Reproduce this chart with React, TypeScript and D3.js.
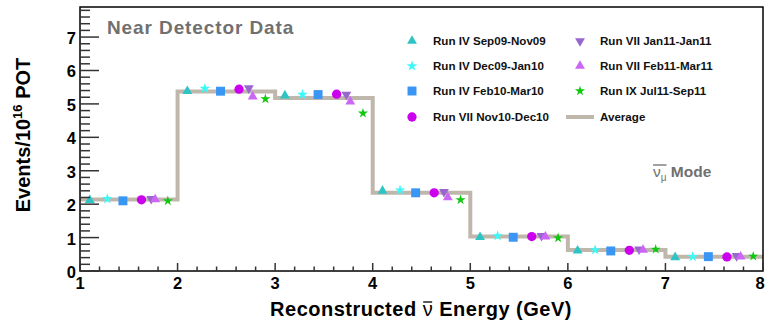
import React, { useEffect, useRef } from "react";
import * as d3 from "d3";

const binStarts = [1, 2, 3, 4, 5, 6, 7];
const average = [2.14, 5.37, 5.18, 2.34, 1.03, 0.63, 0.43];
const runIVSep = [2.12, 5.38, 5.25, 2.40, 1.01, 0.61, 0.41];
const runIVDec = [2.16, 5.46, 5.28, 2.42, 1.05, 0.63, 0.43];
const runIVFeb = [2.10, 5.38, 5.28, 2.34, 1.01, 0.60, 0.43];
const runVIINov = [2.13, 5.44, 5.29, 2.34, 1.03, 0.62, 0.42];
const runVIIJan = [2.16, 5.47, 5.28, 2.37, 1.05, 0.65, 0.45];
const runVIIFeb = [2.14, 5.22, 5.07, 2.20, 1.03, 0.63, 0.43];
const runIXJul = [2.10, 5.15, 4.72, 2.13, 0.99, 0.65, 0.44];
const seriesNames = [
  "Run IV Sep09-Nov09",
  "Run IV Dec09-Jan10",
  "Run IV Feb10-Mar10",
  "Run VII Nov10-Dec10",
  "Run VII Jan11-Jan11",
  "Run VII Feb11-Mar11",
  "Run IX Jul11-Sep11",
];
const offsets = [0.1, 0.28, 0.44, 0.63, 0.73, 0.77, 0.9];
const yTicks = [0, 1, 2, 3, 4, 5, 6, 7];
const xTicks = [1, 2, 3, 4, 5, 6, 7, 8];

const FONT = "'Liberation Sans', Arial, Helvetica, sans-serif";

export default function App() {
  const ref = useRef<SVGSVGElement>(null);
  useEffect(() => {
    const svg = d3.select(ref.current);
    svg.selectAll("*").remove();
    const x = d3.scaleLinear().domain([1, 8]).range([80, 763]);
    const y = d3.scaleLinear().domain([0, 7.9]).range([271, 7]);

    const series = [runIVSep, runIVDec, runIVFeb, runVIINov, runVIIJan, runVIIFeb, runIXJul];
    const styles = [
      { type: d3.symbolTriangle, size: 42, color: "#2ec4c4", rot: 0 },
      { type: d3.symbolStar, size: 36, color: "#3cf8f8", rot: 0 },
      { type: d3.symbolSquare, size: 80, color: "#3a96f5", rot: 0 },
      { type: d3.symbolCircle, size: 68, color: "#cc00ee", rot: 0 },
      { type: d3.symbolTriangle, size: 42, color: "#9966d0", rot: 180 },
      { type: d3.symbolTriangle, size: 42, color: "#cc66f5", rot: 0 },
      { type: d3.symbolStar, size: 32, color: "#11c811", rot: 0 },
    ];

    // step line (average)
    const stepData = binStarts.map((b, i) => [b, average[i]] as [number, number]);
    stepData.push([8, average[average.length - 1]]);
    const line = d3
      .line<[number, number]>()
      .x((d) => x(d[0]))
      .y((d) => y(d[1]))
      .curve(d3.curveStepAfter);
    svg
      .append("path")
      .attr("d", line(stepData))
      .attr("fill", "none")
      .attr("stroke", "#c0b7ac")
      .attr("stroke-width", 4);

    // markers
    series.forEach((vals, si) => {
      const st = styles[si];
      const sym = d3.symbol().type(st.type).size(st.size);
      svg
        .append("g")
        .selectAll("path")
        .data(vals)
        .join("path")
        .attr("d", sym() as string)
        .attr(
          "transform",
          (d, i) => `translate(${x(binStarts[i] + offsets[si])},${y(d)}) rotate(${st.rot})`
        )
        .attr("fill", st.color);
    });

    // frame
    svg
      .append("rect")
      .attr("x", 80)
      .attr("y", 7)
      .attr("width", 683)
      .attr("height", 264)
      .attr("fill", "none")
      .attr("stroke", "#000")
      .attr("stroke-width", 1.5);

    // y ticks
    const yMinor = d3.range(0, 7.81, 0.2);
    svg
      .append("g")
      .selectAll("line")
      .data(yMinor)
      .join("line")
      .attr("x1", 80)
      .attr("x2", (d) => (Math.abs(d - Math.round(d)) < 1e-6 ? 99 : 90))
      .attr("y1", (d) => y(d))
      .attr("y2", (d) => y(d))
      .attr("stroke", "#333")
      .attr("stroke-width", 1.5);
    svg
      .append("g")
      .selectAll("text")
      .data(yTicks)
      .join("text")
      .attr("x", 76)
      .attr("y", (d) => y(d) + 7)
      .attr("text-anchor", "end")
      .attr("font-family", FONT)
      .attr("font-weight", "bold")
      .attr("font-size", 16.5)
      .text((d) => String(d));

    // x ticks
    const xMinor = d3.range(1, 8.01, 0.2);
    svg
      .append("g")
      .selectAll("line")
      .data(xMinor)
      .join("line")
      .attr("x1", (d) => x(d))
      .attr("x2", (d) => x(d))
      .attr("y1", 271)
      .attr("y2", (d) => (Math.abs(d - Math.round(d)) < 1e-6 ? 263 : 266.5))
      .attr("stroke", "#333")
      .attr("stroke-width", 1.5);
    svg
      .append("g")
      .selectAll("text")
      .data(xTicks)
      .join("text")
      .attr("x", (d) => Math.min(x(d), 760))
      .attr("y", 289)
      .attr("text-anchor", "middle")
      .attr("font-family", FONT)
      .attr("font-weight", "bold")
      .attr("font-size", 16.5)
      .text((d) => String(d));

    // axis titles
    const yl = svg
      .append("text")
      .attr("transform", "translate(30,135) rotate(-90)")
      .attr("text-anchor", "middle")
      .attr("font-family", FONT)
      .attr("font-weight", "bold")
      .attr("font-size", 20);
    yl.append("tspan").text("Events/10");
    yl.append("tspan").attr("font-size", 13).attr("dy", -8).text("16");
    yl.append("tspan").attr("dy", 8).text(" POT");

    const xl = svg
      .append("text")
      .attr("x", 421)
      .attr("y", 316)
      .attr("text-anchor", "middle")
      .attr("font-family", FONT)
      .attr("font-weight", "bold")
      .attr("font-size", 20)
      .attr("letter-spacing", 0.5);
    xl.append("tspan").text("Reconstructed ");
    xl.append("tspan").attr("font-weight", "normal").text("ν");
    xl.append("tspan").text(" Energy (GeV)");
    try {
      const node = xl.node() as SVGTextElement;
      const s = node.getStartPositionOfChar(14);
      const e = node.getEndPositionOfChar(14);
      svg
        .append("line")
        .attr("x1", s.x + 0.5)
        .attr("x2", e.x - 1)
        .attr("y1", 302)
        .attr("y2", 302)
        .attr("stroke", "#000")
        .attr("stroke-width", 1.3);
    } catch (err) {}

    // title
    svg
      .append("text")
      .attr("x", 107)
      .attr("y", 34)
      .attr("font-family", FONT)
      .attr("font-weight", "bold")
      .attr("font-size", 19)
      .attr("letter-spacing", 0.9)
      .attr("fill", "#707070")
      .text("Near Detector Data");

    // mode label
    const ml = svg
      .append("text")
      .attr("x", 653)
      .attr("y", 177)
      .attr("font-family", FONT)
      .attr("font-weight", "bold")
      .attr("font-size", 15.5)
      .attr("fill", "#707070");
    ml.append("tspan").attr("font-weight", "normal").text("ν");
    ml.append("tspan").attr("font-size", 10).attr("font-weight", "normal").attr("dy", 4).text("μ");
    ml.append("tspan").attr("dy", -4).text(" Mode");
    try {
      const node = ml.node() as SVGTextElement;
      const s = node.getStartPositionOfChar(0);
      const e = node.getEndPositionOfChar(1);
      svg
        .append("line")
        .attr("x1", s.x)
        .attr("x2", e.x)
        .attr("y1", 165)
        .attr("y2", 165)
        .attr("stroke", "#707070")
        .attr("stroke-width", 1.3);
    } catch (err) {}

    // legend
    const rows = [41, 66, 91, 117];
    const cols = [
      { mx: 412, tx: 433 },
      { mx: 580, tx: 600 },
    ];
    const legendItems = seriesNames.map((n, i) => ({ name: n, si: i }));
    const positions = [
      [0, 0],
      [0, 1],
      [0, 2],
      [0, 3],
      [1, 0],
      [1, 1],
      [1, 2],
    ];
    legendItems.forEach((it, i) => {
      const [c, r] = positions[i];
      const st = styles[it.si];
      const sym = d3.symbol().type(st.type).size(st.size);
      svg
        .append("path")
        .attr("d", sym() as string)
        .attr("transform", `translate(${cols[c].mx},${rows[r]}) rotate(${st.rot})`)
        .attr("fill", st.color);
      svg
        .append("text")
        .attr("x", cols[c].tx)
        .attr("y", rows[r] + 4)
        .attr("font-family", FONT)
        .attr("font-weight", "bold")
        .attr("font-size", 11.6)
        .attr("fill", "#111")
        .text(it.name);
    });
    svg
      .append("line")
      .attr("x1", 566)
      .attr("x2", 594)
      .attr("y1", rows[3])
      .attr("y2", rows[3])
      .attr("stroke", "#c0b7ac")
      .attr("stroke-width", 4);
    svg
      .append("text")
      .attr("x", cols[1].tx)
      .attr("y", rows[3] + 4)
      .attr("font-family", FONT)
      .attr("font-weight", "bold")
      .attr("font-size", 11.6)
      .attr("fill", "#111")
      .text("Average");
  }, []);

  return (
    <svg
      ref={ref}
      width={766}
      height={324}
      style={{ position: "absolute", left: 0, top: 0, background: "#fff" }}
    />
  );
}
